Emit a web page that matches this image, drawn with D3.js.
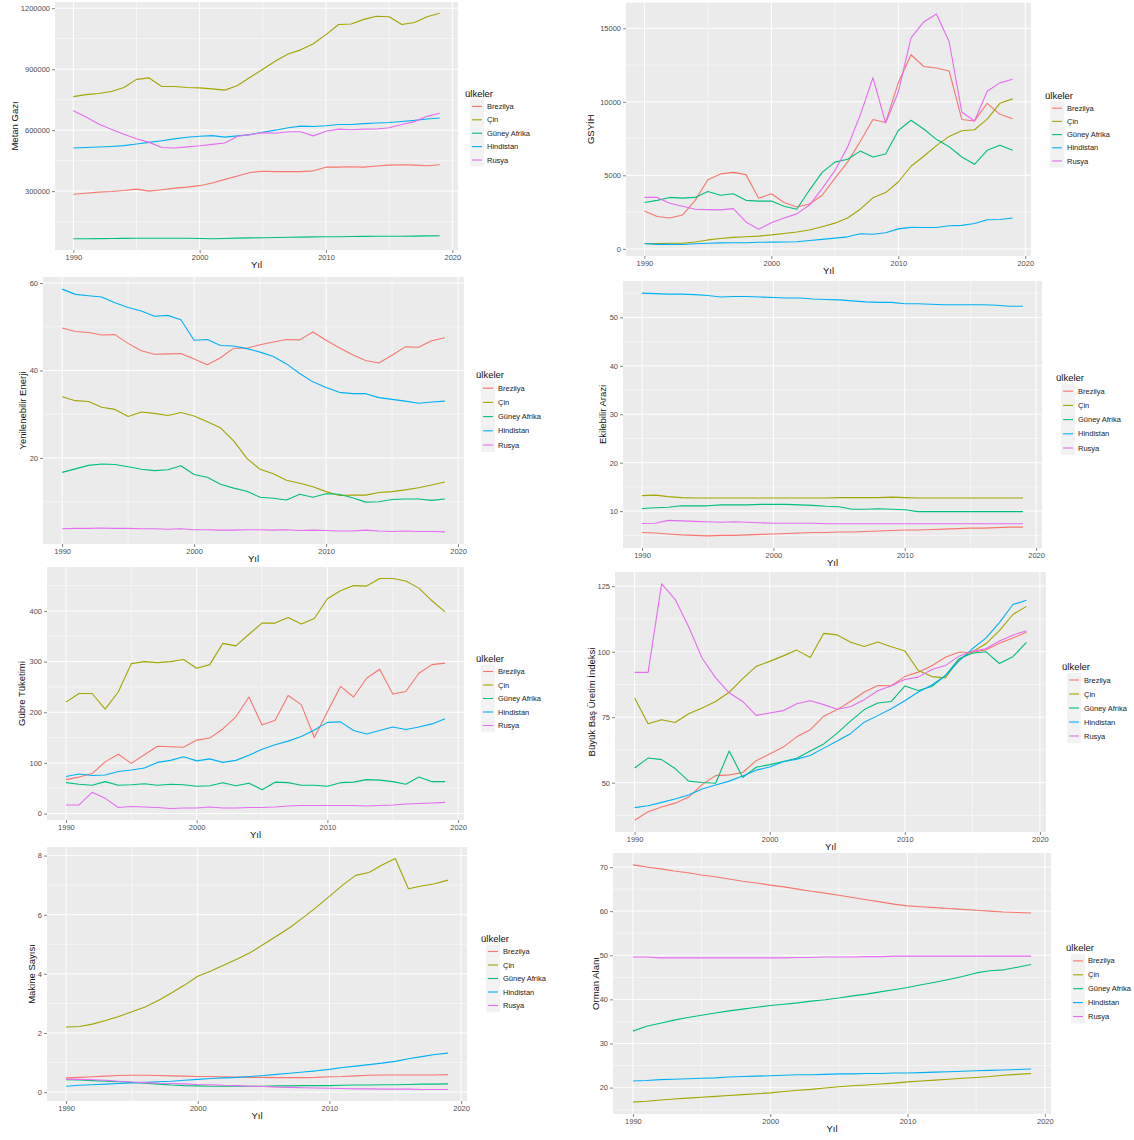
<!DOCTYPE html>
<html lang="tr">
<head>
<meta charset="utf-8">
<title>Ülkeler - göstergeler</title>
<script src="https://d3js.org/d3.v7.min.js"></script>
<style>
    body { margin: 0; background: #fff; }
    svg text { font-family: "Liberation Sans", Arial, sans-serif; }
</style>
</head>
<body>
<script>
// Kategoriler
var years = [1990, 1991, 1992, 1993, 1994, 1995, 1996, 1997, 1998, 1999,
             2000, 2001, 2002, 2003, 2004, 2005, 2006, 2007, 2008, 2009,
             2010, 2011, 2012, 2013, 2014, 2015, 2016, 2017, 2018, 2019];
var countries = ["Brezilya", "Çin", "Güney Afrika", "Hindistan", "Rusya"];
var xTicks = [1990, 2000, 2010, 2020];

// Seriler (sira: Brezilya, Çin, Güney Afrika, Hindistan, Rusya)
var metanGazi = [
    [285000, 290000, 295000, 298000, 303000, 310000, 300000, 307000, 315000, 320000, 327000, 340000, 358000, 375000, 392000, 398000, 396000, 397000, 396000, 400000, 418000, 418000, 420000, 418000, 424000, 428000, 430000, 428000, 425000, 430000],
    [765000, 775000, 780000, 790000, 810000, 850000, 857000, 815000, 815000, 810000, 808000, 803000, 797000, 820000, 860000, 900000, 940000, 975000, 995000, 1025000, 1070000, 1120000, 1122000, 1145000, 1160000, 1158000, 1120000, 1130000, 1158000, 1175000],
    [66000, 66000, 66500, 67000, 67500, 68000, 68000, 68500, 68500, 68000, 67000, 66000, 67000, 69000, 70000, 71000, 72000, 73000, 74000, 75000, 75500, 76000, 77000, 77500, 78000, 78000, 78500, 79000, 80000, 81000],
    [512000, 515000, 517000, 520000, 524000, 532000, 540000, 548000, 557000, 565000, 570000, 573000, 566000, 572000, 578000, 590000, 600000, 612000, 620000, 618000, 622000, 628000, 628000, 632000, 635000, 638000, 643000, 648000, 655000, 660000],
    [695000, 665000, 630000, 605000, 580000, 558000, 540000, 515000, 512000, 518000, 523000, 530000, 537000, 570000, 578000, 588000, 585000, 592000, 592000, 572000, 595000, 605000, 602000, 605000, 606000, 612000, 628000, 642000, 668000, 683000]
];
var gsyih = [
    [2580, 2200, 2100, 2300, 3300, 4700, 5100, 5200, 5050, 3450, 3750, 3150, 2850, 3050, 3650, 4800, 5900, 7300, 8800, 8600, 11300, 13200, 12400, 12300, 12100, 8800, 8700, 9900, 9150, 8850],
    [350, 360, 380, 380, 470, 610, 710, 780, 830, 870, 950, 1050, 1150, 1290, 1510, 1750, 2100, 2700, 3470, 3830, 4550, 5620, 6300, 7020, 7650, 8030, 8100, 8820, 9900, 10200],
    [3150, 3300, 3500, 3450, 3500, 3900, 3650, 3750, 3300, 3250, 3250, 2900, 2700, 4000, 5200, 5900, 6100, 6650, 6250, 6450, 8050, 8750, 8150, 7450, 6950, 6250, 5750, 6700, 7050, 6700],
    [370, 310, 320, 300, 350, 380, 410, 420, 420, 450, 460, 470, 490, 570, 650, 730, 820, 1030, 1000, 1100, 1360, 1460, 1450, 1450, 1570, 1600, 1730, 1980, 2000, 2100],
    [3500, 3500, 3100, 2900, 2700, 2670, 2650, 2740, 1830, 1330, 1770, 2100, 2380, 2980, 4100, 5320, 6920, 9100, 11640, 8560, 10670, 14350, 15430, 15970, 14100, 9310, 8700, 10720, 11290, 11540]
];
var yenilenebilirEnerji = [
    [49.7, 48.9, 48.7, 48.1, 48.2, 46.2, 44.5, 43.7, 43.8, 43.9, 42.6, 41.3, 42.9, 45.1, 45.1, 45.9, 46.5, 47.1, 47.0, 48.8, 46.9, 45.2, 43.6, 42.3, 41.7, 43.5, 45.4, 45.3, 46.8, 47.5],
    [34.0, 33.1, 32.9, 31.6, 31.1, 29.5, 30.5, 30.2, 29.7, 30.4, 29.6, 28.3, 26.9, 23.9, 19.9, 17.4, 16.4, 14.9, 14.2, 13.4, 12.3, 11.4, 11.5, 11.5, 12.1, 12.3, 12.7, 13.2, 13.8, 14.5],
    [16.7, 17.5, 18.3, 18.6, 18.5, 18.0, 17.4, 17.1, 17.3, 18.2, 16.2, 15.6, 14.0, 13.1, 12.4, 11.0, 10.8, 10.4, 11.7, 11.0, 11.8, 11.7, 10.9, 9.9, 10.0, 10.5, 10.6, 10.6, 10.3, 10.6],
    [58.6, 57.4, 57.1, 56.8, 55.5, 54.4, 53.6, 52.4, 52.6, 51.6, 46.9, 47.1, 45.7, 45.6, 45.0, 44.2, 43.2, 41.5, 39.3, 37.4, 36.1, 35.0, 34.7, 34.7, 33.8, 33.4, 33.0, 32.5, 32.8, 33.0],
    [3.8, 3.9, 3.9, 4.0, 3.9, 3.9, 3.8, 3.8, 3.7, 3.8, 3.6, 3.6, 3.5, 3.5, 3.6, 3.6, 3.5, 3.6, 3.4, 3.5, 3.4, 3.3, 3.3, 3.5, 3.3, 3.2, 3.3, 3.2, 3.2, 3.1]
];
var ekilebilirArazi = [
    [5.6, 5.5, 5.3, 5.1, 5.0, 4.9, 5.0, 5.0, 5.1, 5.2, 5.3, 5.4, 5.5, 5.6, 5.6, 5.7, 5.7, 5.8, 5.9, 6.0, 6.1, 6.1, 6.2, 6.3, 6.4, 6.5, 6.5, 6.6, 6.7, 6.7],
    [13.2, 13.3, 13.0, 12.8, 12.7, 12.7, 12.7, 12.7, 12.7, 12.7, 12.7, 12.7, 12.7, 12.7, 12.7, 12.8, 12.8, 12.8, 12.8, 12.9, 12.8, 12.7, 12.7, 12.7, 12.7, 12.7, 12.7, 12.7, 12.7, 12.7],
    [10.55, 10.7, 10.8, 11.1, 11.1, 11.1, 11.3, 11.3, 11.3, 11.4, 11.4, 11.4, 11.3, 11.2, 11.0, 10.9, 10.4, 10.4, 10.5, 10.4, 10.3, 9.9, 9.9, 9.9, 9.9, 9.9, 9.9, 9.9, 9.9, 9.9],
    [55.0, 54.9, 54.8, 54.8, 54.7, 54.5, 54.2, 54.3, 54.3, 54.2, 54.1, 54.0, 54.0, 53.8, 53.7, 53.6, 53.4, 53.2, 53.1, 53.1, 52.8, 52.8, 52.7, 52.6, 52.6, 52.6, 52.6, 52.5, 52.3, 52.3],
    [7.45, 7.5, 8.1, 8.0, 7.9, 7.8, 7.7, 7.8, 7.7, 7.6, 7.5, 7.5, 7.5, 7.5, 7.4, 7.4, 7.4, 7.4, 7.4, 7.4, 7.4, 7.4, 7.4, 7.4, 7.4, 7.4, 7.4, 7.4, 7.4, 7.4]
];
var gubreTuketimi = [
    [67, 72, 79, 102, 117, 99, 116, 133, 132, 131, 145, 149, 167, 191, 230, 175, 184, 233, 215, 150, 201, 251, 230, 267, 285, 236, 241, 277, 294, 297],
    [220, 237, 237, 206, 240, 296, 300, 298, 300, 304, 287, 294, 336, 331, 354, 376, 376, 387, 374, 385, 424, 440, 450, 449, 464, 464, 459, 445, 420, 398],
    [61, 58, 56, 63, 56, 57, 59, 56, 58, 57, 54, 55, 61, 55, 60, 47, 62, 61, 56, 56, 54, 61, 62, 67, 66, 63, 58, 72, 63, 63],
    [73, 78, 75, 76, 83, 86, 90, 101, 105, 112, 104, 108, 101, 105, 115, 127, 136, 143, 152, 165, 180, 181, 164, 157, 164, 171, 166, 171, 177, 187],
    [17, 17, 42, 30, 12, 14, 13, 12, 10, 11, 11, 13, 11, 11, 12, 12, 13, 15, 16, 16, 16, 16, 16, 15, 16, 17, 19, 20, 21, 22]
];
var buyukBasUretim = [
    [35.7, 38.9, 40.7, 42.2, 44.5, 49.3, 52.7, 53.0, 53.9, 58.4, 61.0, 63.6, 67.5, 70.2, 75.4, 77.9, 81.1, 84.6, 87.1, 87.0, 90.5, 92.2, 94.6, 97.9, 99.8, 99.8, 100.7, 103.2, 105.2, 107.4],
    [82.3, 72.5, 74.0, 73.0, 76.3, 78.5, 81.0, 84.5, 89.7, 94.4, 96.3, 98.4, 100.6, 97.8, 107.0, 106.4, 103.6, 102.0, 103.7, 101.9, 100.3, 92.8, 90.5, 90.0, 97.0, 100.0, 103.0, 108.0, 114.2, 117.3],
    [55.6, 59.4, 58.8, 55.4, 50.6, 50.1, 49.8, 62.1, 52.0, 55.9, 56.9, 58.1, 59.3, 62.1, 64.8, 68.9, 73.6, 77.9, 80.4, 81.0, 86.9, 85.2, 86.7, 90.9, 97.3, 99.4, 100.0, 95.5, 98.1, 103.6],
    [40.5, 41.2, 42.5, 43.8, 45.3, 47.6, 49.1, 50.6, 52.6, 54.8, 56.0, 58.0, 59.0, 60.4, 63.2, 65.9, 68.8, 73.1, 75.6, 78.2, 81.3, 84.6, 87.3, 90.8, 96.4, 101.1, 105.2, 111.1, 118.0, 119.6],
    [92.1, 92.1, 125.9, 120.0, 109.5, 97.5, 90.0, 84.3, 81.0, 75.7, 76.6, 77.5, 80.1, 81.3, 79.8, 78.0, 79.1, 81.7, 85.1, 87.0, 89.4, 90.3, 93.2, 94.7, 98.3, 100.2, 101.1, 104.1, 106.3, 108.0]
];
var makineSayisi = [
    [0.48, 0.50, 0.52, 0.54, 0.56, 0.57, 0.57, 0.56, 0.55, 0.54, 0.53, 0.53, 0.52, 0.51, 0.50, 0.50, 0.49, 0.49, 0.49, 0.50, 0.52, 0.53, 0.55, 0.57, 0.58, 0.58, 0.58, 0.58, 0.58, 0.59],
    [2.20, 2.22, 2.30, 2.42, 2.56, 2.72, 2.88, 3.10, 3.35, 3.62, 3.92, 4.10, 4.30, 4.50, 4.72, 5.00, 5.28, 5.57, 5.90, 6.25, 6.62, 7.00, 7.33, 7.43, 7.68, 7.90, 6.88, 6.97, 7.05, 7.17],
    [0.42, 0.41, 0.39, 0.37, 0.35, 0.33, 0.30, 0.27, 0.24, 0.22, 0.21, 0.20, 0.20, 0.20, 0.20, 0.20, 0.21, 0.21, 0.22, 0.22, 0.22, 0.23, 0.24, 0.24, 0.25, 0.25, 0.26, 0.27, 0.27, 0.28],
    [0.20, 0.23, 0.25, 0.27, 0.29, 0.31, 0.33, 0.35, 0.37, 0.40, 0.43, 0.46, 0.48, 0.50, 0.53, 0.56, 0.60, 0.64, 0.68, 0.72, 0.77, 0.83, 0.88, 0.93, 0.98, 1.04, 1.13, 1.20, 1.27, 1.32],
    [0.44, 0.43, 0.42, 0.40, 0.37, 0.34, 0.32, 0.30, 0.29, 0.28, 0.26, 0.25, 0.23, 0.22, 0.20, 0.19, 0.17, 0.16, 0.15, 0.14, 0.13, 0.12, 0.11, 0.11, 0.10, 0.10, 0.10, 0.09, 0.09, 0.09]
];
var ormanAlani = [
    [70.5, 70.0, 69.6, 69.1, 68.7, 68.2, 67.8, 67.3, 66.8, 66.4, 65.9, 65.5, 65.0, 64.5, 64.1, 63.6, 63.1, 62.6, 62.1, 61.6, 61.2, 61.0, 60.8, 60.6, 60.4, 60.2, 60.0, 59.8, 59.7, 59.6],
    [16.7, 16.9, 17.2, 17.4, 17.6, 17.8, 18.0, 18.2, 18.4, 18.6, 18.8, 19.1, 19.4, 19.6, 19.9, 20.2, 20.4, 20.6, 20.8, 21.0, 21.3, 21.5, 21.7, 21.9, 22.1, 22.3, 22.5, 22.8, 23.0, 23.2],
    [32.8, 33.9, 34.6, 35.3, 35.9, 36.4, 36.9, 37.4, 37.8, 38.2, 38.6, 38.9, 39.2, 39.6, 39.9, 40.3, 40.8, 41.2, 41.7, 42.2, 42.7, 43.3, 43.9, 44.5, 45.2, 46.0, 46.5, 46.7, 47.3, 47.9],
    [21.5, 21.6, 21.8, 21.9, 22.0, 22.1, 22.2, 22.4, 22.5, 22.6, 22.7, 22.8, 22.9, 22.9, 23.0, 23.1, 23.1, 23.2, 23.2, 23.3, 23.3, 23.4, 23.5, 23.6, 23.7, 23.8, 23.9, 24.0, 24.1, 24.2],
    [49.6, 49.6, 49.4, 49.4, 49.4, 49.4, 49.4, 49.4, 49.4, 49.4, 49.4, 49.4, 49.5, 49.5, 49.6, 49.6, 49.6, 49.7, 49.7, 49.8, 49.8, 49.8, 49.8, 49.8, 49.8, 49.8, 49.8, 49.8, 49.8, 49.8]
];

// Eksen etiketleri
var yLabels = ["Metan Gazı", "GSYİH", "Yenilenebilir Enerji", "Ekilebilir Arazi",
               "Gübre Tüketimi", "Büyük Baş Üretim İndeksi", "Makine Sayısı", "Orman Alanı"];
var yTickSets = [
    [300000, 600000, 900000, 1200000],
    [0, 5000, 10000, 15000],
    [20, 40, 60],
    [10, 20, 30, 40, 50],
    [0, 100, 200, 300, 400],
    [50, 75, 100, 125],
    [0, 2, 4, 6, 8],
    [20, 30, 40, 50, 60, 70]
];
var seriesSets = [metanGazi, gsyih, yenilenebilirEnerji, ekilebilirArazi,
                  gubreTuketimi, buyukBasUretim, makineSayisi, ormanAlani];

// ggplot renkleri
var colors = ["#F8766D", "#A3A500", "#00BF7D", "#00B0F6", "#E76BF3"];

// Panel yerlesimi: cizim alani (l,r,t,b), y baslik x, legend (lx, ly, aralik)
var layout = [
    {l: 55,  r: 458,  t: 2,   b: 250,  yt: 14,  lx: 465,  ly: 93,  ls: 13.4},
    {l: 626, r: 1031, t: 2.5, b: 256,  yt: 590, lx: 1045, ly: 95,  ls: 13.2},
    {l: 43,  r: 464,  t: 277, b: 544,  yt: 22,  lx: 476,  ly: 374, ls: 14.2},
    {l: 623, r: 1042, t: 281, b: 548,  yt: 602, lx: 1056, ly: 377, ls: 14.2},
    {l: 47,  r: 464,  t: 567, b: 820,  yt: 21,  lx: 476,  ly: 658, ls: 13.5},
    {l: 615, r: 1046, t: 572, b: 832,  yt: 591, lx: 1062, ly: 666, ls: 14.0},
    {l: 47,  r: 467,  t: 847, b: 1101, yt: 31,  lx: 481,  ly: 938, ls: 13.5},
    {l: 613, r: 1051, t: 853, b: 1114, yt: 595, lx: 1066, ly: 947, ls: 13.9}
];

var w = 1134, h = 1140;
var svg = d3.select("body").append("svg")
    .attr("width", w)
    .attr("height", h);

svg.append("rect").attr("width", w).attr("height", h).attr("fill", "#fff");

function drawPanel(i) {
    var p = layout[i];
    var data = seriesSets[i];
    var yTicks = yTickSets[i];
    var g = svg.append("g");

    // Escalas con 5% de expansion (como ggplot)
    var xe = d3.extent(years), xp = (xe[1] - xe[0]) * 0.05;
    var x = d3.scaleLinear().domain([xe[0] - xp, xe[1] + xp]).range([p.l, p.r]);
    var ye = d3.extent(d3.merge(data)), yp = (ye[1] - ye[0]) * 0.05;
    var y = d3.scaleLinear().domain([ye[0] - yp, ye[1] + yp]).range([p.b, p.t]);

    g.append("rect")
        .attr("x", p.l).attr("y", p.t)
        .attr("width", p.r - p.l).attr("height", p.b - p.t)
        .attr("fill", "#EBEBEB");

    // minor grid
    var xs = xTicks[1] - xTicks[0];
    var xMinor = d3.range(xTicks[0] - xs / 2, xTicks[xTicks.length - 1] + xs, xs)
        .filter(function(v) { return v > x.domain()[0] && v < x.domain()[1]; });
    var ys = yTicks[1] - yTicks[0];
    var yMinor = d3.range(yTicks[0] - ys / 2, yTicks[yTicks.length - 1] + ys, ys)
        .filter(function(v) { return v > y.domain()[0] && v < y.domain()[1]; });

    g.selectAll(".xminor").data(xMinor).enter().append("line")
        .attr("x1", function(d) { return x(d); }).attr("x2", function(d) { return x(d); })
        .attr("y1", p.t).attr("y2", p.b)
        .attr("stroke", "#fff").attr("stroke-width", 0.5);
    g.selectAll(".yminor").data(yMinor).enter().append("line")
        .attr("y1", function(d) { return y(d); }).attr("y2", function(d) { return y(d); })
        .attr("x1", p.l).attr("x2", p.r)
        .attr("stroke", "#fff").attr("stroke-width", 0.5);

    // major grid
    g.selectAll(".xmajor").data(xTicks.filter(function(v) { return v < x.domain()[1]; })).enter().append("line")
        .attr("x1", function(d) { return x(d); }).attr("x2", function(d) { return x(d); })
        .attr("y1", p.t).attr("y2", p.b)
        .attr("stroke", "#fff").attr("stroke-width", 1);
    g.selectAll(".ymajor").data(yTicks).enter().append("line")
        .attr("y1", function(d) { return y(d); }).attr("y2", function(d) { return y(d); })
        .attr("x1", p.l).attr("x2", p.r)
        .attr("stroke", "#fff").attr("stroke-width", 1);

    // lineas
    var line = d3.line()
        .x(function(d, j) { return x(years[j]); })
        .y(function(d) { return y(d); });
    data.forEach(function(s, k) {
        g.append("path")
            .datum(s)
            .attr("d", line)
            .attr("fill", "none")
            .attr("stroke", colors[k])
            .attr("stroke-width", 1.1)
            .attr("stroke-linejoin", "round");
    });

    // ejes
    var xAxis = g.append("g")
        .attr("transform", "translate(0," + p.b + ")")
        .call(d3.axisBottom(x).tickValues(xTicks).tickFormat(d3.format("d")).tickSize(3).tickPadding(2));
    var yAxis = g.append("g")
        .attr("transform", "translate(" + p.l + ",0)")
        .call(d3.axisLeft(y).tickValues(yTicks).tickFormat(d3.format("d")).tickSize(3).tickPadding(2));
    [xAxis, yAxis].forEach(function(a) {
        a.select(".domain").remove();
        a.selectAll(".tick line").attr("stroke", "#333").attr("stroke-width", 0.6);
        a.selectAll(".tick text").attr("fill", "#4D4D4D").style("font-size", "7.5px")
            .style("font-family", "'Liberation Sans', Arial, sans-serif");
    });

    // titulos
    g.append("text")
        .attr("x", (p.l + p.r) / 2).attr("y", p.b + 18)
        .attr("text-anchor", "middle")
        .attr("font-size", 9.5).attr("fill", "#111")
        .text("Yıl");
    g.append("text")
        .attr("transform", "translate(" + p.yt + "," + ((p.t + p.b) / 2) + ") rotate(-90)")
        .attr("text-anchor", "middle").attr("dominant-baseline", "central")
        .attr("font-size", 9.5).attr("fill", "#111")
        .text(yLabels[i]);

    // leyenda
    var lg = g.append("g").attr("transform", "translate(" + p.lx + "," + p.ly + ")");
    lg.append("text")
        .attr("x", 0).attr("y", 0)
        .attr("dominant-baseline", "central")
        .attr("font-size", 9.5).attr("fill", "#111")
        .text("ülkeler");
    countries.forEach(function(c, k) {
        var cy = p.ls * (k + 1);
        lg.append("rect")
            .attr("x", 5).attr("y", cy - p.ls / 2)
            .attr("width", 14).attr("height", p.ls)
            .attr("fill", "#F2F2F2");
        lg.append("line")
            .attr("x1", 7).attr("x2", 17).attr("y1", cy).attr("y2", cy)
            .attr("stroke", colors[k]).attr("stroke-width", 1.1);
        lg.append("text")
            .attr("x", 22).attr("y", cy)
            .attr("dominant-baseline", "central")
            .attr("font-size", 7.5).attr("fill", "#222")
            .text(c);
    });
}

for (var i = 0; i < layout.length; i++) {
    drawPanel(i);
}
</script>
</body>
</html>
